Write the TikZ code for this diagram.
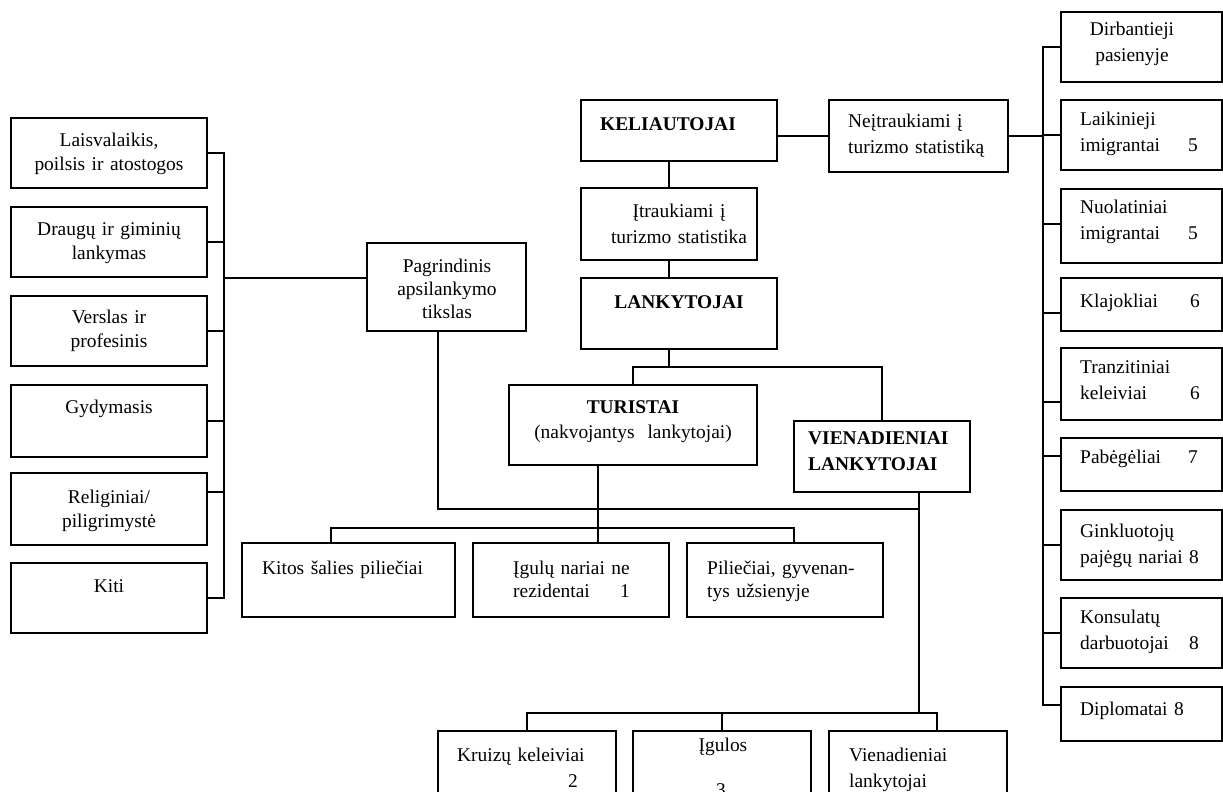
\documentclass[tikz,border=0pt]{standalone}
\usepackage{fontspec}
\setmainfont{Liberation Serif}
\usetikzlibrary{fit}
\tikzset{
  box/.style={draw, line width=1.8bp, inner sep=0pt, rectangle},
  conn/.style={line width=1.8bp},
  % text placed by the baseline of its first line
  txt/.style={anchor=north, inner sep=0pt, align=center, text width=200pt,
    font=\fontsize{19.5}{#1}\selectfont, yshift={0.7*#1pt},
    execute at begin node=\strut},
  txt/.default=24,
  txtl/.style={txt=#1, anchor=north west, align=left, text width=190pt},
  txtl/.default=24,
  numcol/.style={txtl=26.7, text width=124pt},
}
\begin{document}
\begin{tikzpicture}[x=1bp,y=-1bp]
\useasboundingbox (0,0) rectangle (1223,792);
\clip (0,0) rectangle (1223,792);

% ---- purposes of the visit (left column)
\node[box, fit={(11,118) (207,188)}] (lv1) {};
\node[box, fit={(11,207) (207,277)}] (lv2) {};
\node[box, fit={(11,296) (207,366)}] (lv3) {};
\node[box, fit={(11,385) (207,457)}] (lv4) {};
\node[box, fit={(11,473) (207,545)}] (lv5) {};
\node[box, fit={(11,563) (207,633)}] (lv6) {};
\node[txt] (t-lv1) at (109,146) {Laisvalaikis,\\poilsis ir atostogos};
\node[txt] (t-lv2) at (109,235) {Draugų ir giminių\\lankymas};
\node[txt] (t-lv3) at (109,323) {Verslas ir\\profesinis};
\node[txt] (t-lv4) at (109,413) {Gydymasis};
\node[txt] (t-lv5) at (109,503) {Religiniai/\\piligrimystė};
\node[txt] (t-lv6) at (109,592) {Kiti};

\node[box, fit={(367,243) (526,331)}] (purp) {};
\node[txt=23] (t-purp) at (447,272) {Pagrindinis\\apsilankymo\\tikslas};

% ---- main chain
\node[box, fit={(581,100) (777,161)}] (kel) {};
\node[txt] (t-kel) at (668,130) {\textbf{KELIAUTOJAI}};
\node[box, fit={(581,188) (757,260)}] (itr) {};
\node[txt=26] (t-itr) at (679,217) {Įtraukiami į\\turizmo statistika};
\node[box, fit={(581,278) (777,349)}] (lank) {};
\node[txt] (t-lank) at (679,308) {\textbf{LANKYTOJAI}};
\node[box, fit={(829,100) (1008,172)}] (neitr) {};
\node[txtl=26] (t-neitr) at (848,127) {Neįtraukiami į\\turizmo statistiką};

\node[box, fit={(509,385) (757,465)}] (tur) {};
\node[txt=25, text width=240pt] (t-tur) at (633,413) {\textbf{TURISTAI}\\(nakvojantys\ \ lankytojai)};
\node[box, fit={(794,421) (970,492)}] (vien) {};
\node[txtl=26] (t-vien) at (808,444) {\textbf{VIENADIENIAI}\\\textbf{LANKYTOJAI}};

% ---- overnight visitors' groups
\node[box, fit={(242,543) (455,617)}] (kitos) {};
\node[txtl] (t-kitos) at (262,574) {Kitos šalies piliečiai};
\node[box, fit={(473,543) (669,617)}] (igul) {};
\node[txtl=23.5, text width=125pt] (t-igul) at (513,574) {Įgulų nariai ne\\rezidentai\hfill 1\hspace*{8pt}\null};
\node[box, fit={(687,543) (883,617)}] (pil) {};
\node[txtl=23.5] (t-pil) at (707,574) {Piliečiai, gyvenan-\\tys užsienyje};

% ---- same-day visitors' groups
\node[box, fit={(438,731) (616,810)}] (kruiz) {};
\node[txtl=26, text width=135pt] (t-kruiz) at (457,761) {Kruizų keleiviai\\\hspace*{\fill}2\hspace*{14pt}\null};
\node[box, fit={(633,731) (811,810)}] (igulos) {};
\node[txt] (t-igulos) at (723,751) {Įgulos};
\node[txt] (t-igulos3) at (721,796) {3};
\node[box, fit={(829,731) (1007,810)}] (vienl) {};
\node[txtl=26] (t-vienl) at (849,761) {Vienadieniai\\lankytojai};

% ---- not included in tourism statistics (right column)
\node[box, fit={(1061,12) (1222,82)}] (r1) {};
\node[box, fit={(1061,100) (1222,170)}] (r2) {};
\node[box, fit={(1061,189) (1222,263)}] (r3) {};
\node[box, fit={(1061,278) (1222,331)}] (r4) {};
\node[box, fit={(1061,348) (1222,420)}] (r5) {};
\node[box, fit={(1061,438) (1222,491)}] (r6) {};
\node[box, fit={(1061,510) (1222,580)}] (r7) {};
\node[box, fit={(1061,598) (1222,668)}] (r8) {};
\node[box, fit={(1061,687) (1222,741)}] (r9) {};
\node[txt=26.7] (t-r1) at (1132,35) {Dirbantieji\\pasienyje};
\node[numcol] (t-r2) at (1080,125) {Laikinieji\\imigrantai\hfill 5\hspace*{6pt}\null};
\node[numcol] (t-r3) at (1080,213) {Nuolatiniai\\imigrantai\hfill 5\hspace*{6pt}\null};
\node[numcol] (t-r4) at (1080,307) {Klajokliai\hfill 6\hspace*{4pt}\null};
\node[numcol] (t-r5) at (1080,373) {Tranzitiniai\\keleiviai\hfill 6\hspace*{4pt}\null};
\node[numcol] (t-r6) at (1080,463) {Pabėgėliai\hfill 7\hspace*{6pt}\null};
\node[numcol] (t-r7) at (1080,537) {Ginkluotojų\\pajėgų nariai 8};
\node[numcol] (t-r8) at (1080,623) {Konsulatų\\darbuotojai\hfill 8\hspace*{5pt}\null};
\node[numcol] (t-r9) at (1080,715) {Diplomatai 8};

% ---- bus points
\coordinate (lbus-a) at (224,153);
\coordinate (lbus-b) at (224,598);
\coordinate (rbus-a) at (1043,47);
\coordinate (rbus-b) at (1043,705);
\coordinate (vsplit) at (669,367);
\coordinate (tsplit) at (598,528);
\coordinate (jn) at (919,509);
\coordinate (bbus) at (919,713);

% ---- connectors: left column
\draw[conn] (lbus-a) -- (lbus-b);
\foreach \n/\s in {lv1/0,lv2/0,lv3/0,lv4/0,lv5/17,lv6/0}
  \draw[conn] ([yshift=\s bp]\n.east) -- ++(17,0);
\draw[conn] ([yshift=9bp]purp.west) -- ++(-143,0);

% ---- connectors: right column
\draw[conn] (rbus-a) -- (rbus-b);
\foreach \n/\s in {r1/0,r2/0,r3/2,r4/-8.5,r5/-18,r6/8.5,r7/0,r8/0,r9/9}
  \draw[conn] ([yshift=\s bp]\n.west) -- ++(-18,0);
\draw[conn] (neitr.west) -- (neitr.west -| kel.east);
\draw[conn] (neitr.east) -- (neitr.east -| rbus-a);

% ---- connectors: main chain
\draw[conn] (itr.north) -- (itr.north |- kel.south);
\draw[conn] (itr.south) -- (itr.south |- lank.north);
\draw[conn] (vsplit |- lank.south) -- (vsplit);
\draw[conn] (tur.north) |- (vsplit) -| (vien.north);
\draw[conn] (tsplit |- tur.south) -- (tsplit |- igul.north);
\draw[conn] ([xshift=-17.5bp]kitos.north) |- (tsplit) -| ([xshift=9bp]pil.north);
\draw[conn] ([xshift=-8.5bp]purp.south) |- (jn);
\draw[conn] (jn |- vien.south) -- (bbus);
\draw[conn] (kruiz.north) |- (bbus) -| ([xshift=19bp]vienl.north);
\draw[conn] (igulos.north) -- (igulos.north |- bbus);
\end{tikzpicture}
\end{document}
